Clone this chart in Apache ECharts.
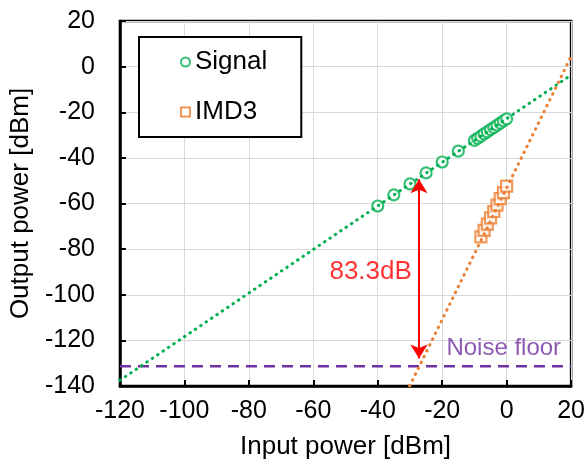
<!DOCTYPE html>
<html>
<head>
<meta charset="utf-8">
<script src="https://cdn.jsdelivr.net/npm/echarts@6/dist/echarts.min.js"></script>
<style>
  html, body { margin: 0; padding: 0; background: #fff; }
  #chart { width: 588px; height: 466px; }
</style>
</head>
<body>
<div id="chart"></div>
<script>
// measured points
var signalX = [-40, -35, -30, -25, -20, -15, -10, -9, -8, -7, -6, -5, -4, -3, -2, -1, 0];
var signalY = [-61.1, -56.2, -51.4, -46.6, -41.8, -37.0, -32.3, -31.4, -30.5, -29.5, -28.6, -27.6, -26.7, -25.7, -24.8, -23.8, -22.9];
var imdX = [-8, -7, -6, -5, -4, -3, -2, -1, 0];
var imdY = [-74.6, -71.8, -69.0, -66.3, -63.5, -60.7, -57.9, -55.2, -52.4];

// trend lines (end points)
var sigTrendX = [-120, 20];
var sigTrendY = [-137.5, -3.7];
var imdTrendX = [-30.1, 20];
var imdTrendY = [-140, 4.5];

// noise floor + annotation
var noiseX = [-120, 20];
var noiseLevel = -131.3;
var arrowX = -27.2;
var arrowY = [-49.4, -127.9];
var gapText = '83.3dB';
var gapTextAt = [-42.2, -90.1];
var noiseText = 'Noise floor';
var noiseTextAt = [16.9, -123.4];

var xTicks = [-120, 20, 20];   // min, max, interval
var yTicks = [-140, 20, 20];

var font = 'Liberation Sans, Arial, sans-serif';
var green = '#00b050', orange = '#ed7d31', purple = '#7030a0', red = '#ff0000';

function pairs(xs, ys) {
    return xs.map(function (x, i) { return [x, ys[i]]; });
}

var chart = echarts.init(document.getElementById('chart'));

var axisCommon = {
    type: 'value',
    axisLine: { show: true, onZero: false, lineStyle: { color: '#000', width: 2.5 } },
    axisTick: { show: true, inside: true, length: 6, lineStyle: { color: '#000', width: 2 } },
    splitLine: { show: true, lineStyle: { color: '#d9d9d9', width: 1 } },
    nameLocation: 'middle',
    nameTextStyle: { fontFamily: font, fontSize: 26, color: '#000' }
};

var option = {
    animation: false,
    backgroundColor: '#fff',
    grid: { left: 118, right: 15, top: 21, bottom: 80, show: true, borderColor: '#000', borderWidth: 2.5 },
    xAxis: Object.assign({}, axisCommon, {
        min: xTicks[0], max: xTicks[1], interval: xTicks[2],
        name: 'Input power [dBm]', nameGap: 48,
        axisLabel: { fontFamily: font, fontSize: 25, color: '#000', margin: 13 }
    }),
    yAxis: Object.assign({}, axisCommon, {
        min: yTicks[0], max: yTicks[1], interval: yTicks[2],
        name: 'Output power [dBm]', nameGap: 82,
        axisLabel: { fontFamily: font, fontSize: 25, color: '#000', margin: 25 }
    }),
    legend: {
        data: ['Signal', 'IMD3'],
        orient: 'vertical',
        left: 139, top: 37,
        padding: [12, 34, 12, 41],
        borderColor: '#000', borderWidth: 2,
        backgroundColor: '#fff',
        itemWidth: 9, itemHeight: 9,
        itemGap: 24,
        textStyle: { fontFamily: font, fontSize: 26, color: '#000', lineHeight: 26 }
    },
    series: [
        {
            name: 'Signal', type: 'scatter', z: 3,
            symbol: 'circle', symbolSize: 11,
            itemStyle: { color: '#fff', borderColor: green, borderWidth: 2.2 },
            data: pairs(signalX, signalY)
        },
        {
            name: 'IMD3', type: 'scatter', z: 3,
            symbol: 'rect', symbolSize: 11,
            itemStyle: { color: '#fff', borderColor: orange, borderWidth: 2.2 },
            data: pairs(imdX, imdY)
        },
        {
            name: 'sigTrend', type: 'line', z: 4, silent: true,
            showSymbol: false, symbol: 'none',
            lineStyle: { color: green, width: 3, type: [0.5, 6], cap: 'round' },
            data: pairs(sigTrendX, sigTrendY)
        },
        {
            name: 'imdTrend', type: 'line', z: 4, silent: true,
            showSymbol: false, symbol: 'none',
            lineStyle: { color: orange, width: 3, type: [0.5, 6], cap: 'round' },
            data: pairs(imdTrendX, imdTrendY)
        },
        {
            name: 'noise', type: 'line', z: 2, silent: true,
            showSymbol: false, symbol: 'none',
            lineStyle: { color: purple, width: 2.5, type: [11, 7] },
            data: noiseX.map(function (x) { return [x, noiseLevel]; })
        },
        {
            name: 'notes', type: 'scatter', z: 5, silent: true,
            symbolSize: 0,
            data: [
                { value: gapTextAt, label: { formatter: gapText, color: red, align: 'center', fontSize: 26 } },
                { value: noiseTextAt, label: { formatter: noiseText, color: purple, fontSize: 24, align: 'right' } }
            ],
            label: { show: true, position: 'inside', verticalAlign: 'middle', fontFamily: font, fontSize: 25 },
            markLine: {
                silent: true,
                symbol: ['arrow', 'arrow'],
                symbolSize: [13, 14],
                label: { show: false },
                lineStyle: { color: red, width: 2, type: 'solid' },
                data: [[{ coord: [arrowX, arrowY[0]] }, { coord: [arrowX, arrowY[1]] }]]
            }
        }
    ]
};

chart.setOption(option);
</script>
</body>
</html>
